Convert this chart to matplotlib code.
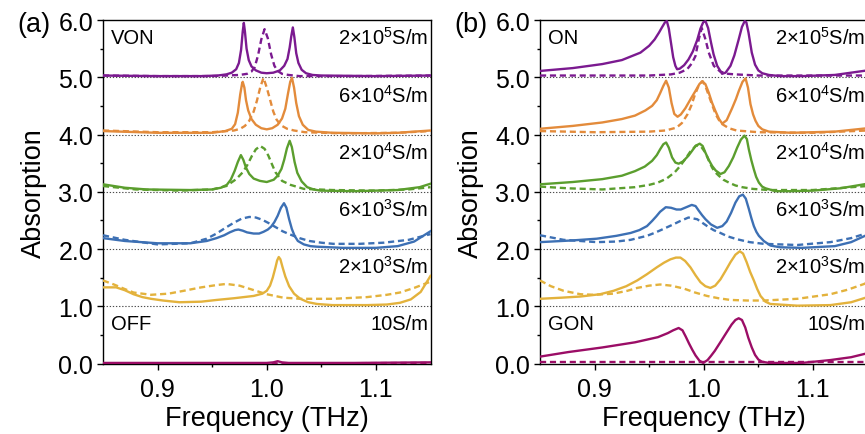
import matplotlib
matplotlib.use("Agg")
import matplotlib.pyplot as plt

plt.rcParams['font.family'] = ['Liberation Sans', 'DejaVu Sans']
plt.rcParams['mathtext.fontset'] = 'custom'
plt.rcParams['mathtext.rm'] = 'Liberation Sans'
plt.rcParams['mathtext.it'] = 'Liberation Sans:italic'

# ---------------- data: panel (a) ----------------
a_purple_f_solid = [0.85, 0.90, 0.94, 0.955, 0.963, 0.968, 0.972, 0.9745, 0.9765, 0.978, 0.979, 0.980, 0.9815, 0.9835,
                    0.986, 0.990, 0.995, 1.000, 1.006, 1.012, 1.016, 1.019, 1.021, 1.0225, 1.0239, 1.0253, 1.027,
                    1.029, 1.032, 1.036, 1.042, 1.05, 1.10, 1.15]
a_purple_solid = [5.03, 5.02, 5.02, 5.03, 5.05, 5.08, 5.14, 5.25, 5.48, 5.80, 5.95, 5.80, 5.50, 5.30,
                  5.19, 5.12, 5.08, 5.07, 5.08, 5.12, 5.20, 5.32, 5.52, 5.72, 5.87, 5.70, 5.42,
                  5.25, 5.13, 5.07, 5.04, 5.03, 5.02, 5.03]
a_purple_f_dash = [0.85, 0.90, 0.95, 0.975, 0.982, 0.986, 0.989, 0.992, 0.995, 0.998, 1.001, 1.004, 1.007, 1.010,
                   1.014, 1.02, 1.03, 1.08, 1.15]
a_purple_dash = [5.03, 5.02, 5.02, 5.04, 5.06, 5.10, 5.18, 5.38, 5.66, 5.84, 5.68, 5.40, 5.20, 5.11,
                 5.06, 5.04, 5.02, 5.02, 5.03]

a_orange_f_solid = [0.85, 0.90, 0.95, 0.962, 0.968, 0.971, 0.9735, 0.9757, 0.9775, 0.978, 0.9795, 0.981, 0.983, 0.986,
                    0.990, 0.995, 1.000, 1.005, 1.010, 1.014, 1.017, 1.0195, 1.0215, 1.0231, 1.025, 1.027, 1.0295,
                    1.033, 1.038, 1.045, 1.06, 1.10, 1.12, 1.15]
a_orange_solid = [4.06, 4.03, 4.03, 4.06, 4.10, 4.18, 4.38, 4.70, 4.90, 4.92, 4.82, 4.60, 4.42, 4.27,
                  4.17, 4.11, 4.09, 4.11, 4.17, 4.28, 4.45, 4.72, 4.92, 4.99, 4.82, 4.55, 4.32,
                  4.17, 4.08, 4.05, 4.03, 4.02, 4.03, 4.07]
a_orange_f_dash = [0.85, 0.90, 0.95, 0.970, 0.9757, 0.980, 0.984, 0.988, 0.991, 0.994, 0.997, 1.000, 1.0033, 1.006,
                   1.009, 1.013, 1.0187, 1.025, 1.035, 1.07, 1.12, 1.15]
a_orange_dash = [4.07, 4.04, 4.04, 4.07, 4.10, 4.15, 4.24, 4.40, 4.59, 4.82, 4.99, 4.82, 4.59, 4.40,
                 4.26, 4.16, 4.10, 4.07, 4.04, 4.02, 4.03, 4.06]

a_green_f_solid = [0.85, 0.87, 0.89, 0.93, 0.950, 0.958, 0.9634, 0.967, 0.9705, 0.9735, 0.9763, 0.9785, 0.981, 0.984,
                   0.988, 0.9937, 1.000, 1.0064, 1.010, 1.0135, 1.016, 1.0185, 1.021, 1.023, 1.0255, 1.028, 1.032,
                   1.037, 1.043, 1.049, 1.08, 1.12, 1.14, 1.15]
a_green_solid = [3.13, 3.07, 3.04, 3.03, 3.04, 3.07, 3.12, 3.21, 3.36, 3.52, 3.64, 3.56, 3.42, 3.31,
                 3.23, 3.19, 3.17, 3.21, 3.28, 3.40, 3.56, 3.76, 3.89, 3.78, 3.52, 3.33, 3.18,
                 3.08, 3.04, 3.02, 3.01, 3.03, 3.08, 3.14]
a_green_f_dash = [0.85, 0.88, 0.92, 0.95, 0.963, 0.972, 0.978, 0.982, 0.9865, 0.990, 0.994, 0.998, 1.0015, 1.005,
                  1.008, 1.014, 1.0218, 1.034, 1.06, 1.10, 1.13, 1.15]
a_green_dash = [3.10, 3.04, 3.02, 3.04, 3.10, 3.22, 3.34, 3.46, 3.63, 3.74, 3.80, 3.75, 3.63, 3.47,
                3.34, 3.19, 3.12, 3.05, 3.03, 3.02, 3.04, 3.08]

a_blue_f_solid = [0.85, 0.87, 0.90, 0.93, 0.945, 0.954, 0.961, 0.966, 0.971, 0.974, 0.978, 0.982, 0.988, 0.993,
                  0.997, 1.001, 1.004, 1.007, 1.010, 1.013, 1.0158, 1.018, 1.0205, 1.023, 1.0255, 1.0285, 1.034,
                  1.040, 1.046, 1.07, 1.10, 1.12, 1.135, 1.15]
a_blue_solid = [2.19, 2.14, 2.10, 2.10, 2.14, 2.19, 2.24, 2.29, 2.33, 2.34, 2.32, 2.29, 2.27, 2.27,
                2.30, 2.34, 2.39, 2.47, 2.58, 2.72, 2.80, 2.72, 2.52, 2.35, 2.23, 2.14, 2.08,
                2.05, 2.04, 2.02, 2.02, 2.05, 2.13, 2.31]
a_blue_f_dash = [0.85, 0.87, 0.90, 0.93, 0.945, 0.954, 0.963, 0.970, 0.977, 0.984, 0.990, 0.996, 1.002, 1.0083,
                 1.0145, 1.0205, 1.030, 1.039, 1.050, 1.061, 1.085, 1.107, 1.13, 1.15]
a_blue_dash = [2.24, 2.16, 2.08, 2.10, 2.18, 2.27, 2.38, 2.46, 2.53, 2.56, 2.55, 2.51, 2.45, 2.38,
               2.31, 2.26, 2.19, 2.14, 2.11, 2.09, 2.09, 2.11, 2.16, 2.26]

a_yellow_f_solid = [0.85, 0.862, 0.870, 0.878, 0.886, 0.894, 0.905, 0.92, 0.94, 0.954, 0.970, 0.988, 0.996, 1.000,
                    1.003, 1.0055, 1.008, 1.0095, 1.011, 1.0125, 1.0145, 1.017, 1.0205, 1.025, 1.0307, 1.038,
                    1.046, 1.06, 1.092, 1.11, 1.122, 1.132, 1.141, 1.15]
a_yellow_solid = [1.33, 1.33, 1.28, 1.21, 1.16, 1.13, 1.10, 1.07, 1.08, 1.11, 1.14, 1.18, 1.22, 1.27,
                  1.36, 1.50, 1.68, 1.80, 1.86, 1.82, 1.68, 1.52, 1.35, 1.22, 1.13, 1.07,
                  1.04, 1.02, 1.02, 1.03, 1.06, 1.12, 1.25, 1.53]
a_yellow_f_dash = [0.85, 0.86, 0.870, 0.878, 0.894, 0.910, 0.924, 0.940, 0.954, 0.963, 0.975, 0.985, 1.0, 1.015,
                   1.031, 1.061, 1.092, 1.11, 1.122, 1.135, 1.15]
a_yellow_dash = [1.45, 1.38, 1.30, 1.24, 1.20, 1.22, 1.27, 1.33, 1.37, 1.39, 1.36, 1.30, 1.21, 1.15,
                 1.13, 1.13, 1.16, 1.20, 1.24, 1.32, 1.43]

a_mag_f_solid = [0.85, 0.95, 1.0, 1.006, 1.010, 1.014, 1.02, 1.08, 1.15]
a_mag_solid = [0.01, 0.01, 0.01, 0.02, 0.04, 0.02, 0.01, 0.01, 0.02]
a_mag_f_dash = [0.85, 1.0, 1.15]
a_mag_dash = [0.0, 0.0, 0.01]

# ---------------- data: panel (b) ----------------
b_purple_f_solid = [0.85, 0.88, 0.907, 0.925, 0.942, 0.950, 0.955, 0.959, 0.962, 0.9645, 0.9662, 0.968, 0.970, 0.972,
                    0.974, 0.9756, 0.978, 0.982, 0.986, 0.990, 0.994, 0.997, 0.9995, 1.0016, 1.004, 1.0065, 1.009,
                    1.0123, 1.0168, 1.020, 1.0245, 1.028, 1.032, 1.035, 1.0375, 1.039, 1.041, 1.044, 1.047, 1.050,
                    1.0536, 1.0597, 1.07, 1.09, 1.12, 1.15]
b_purple_solid = [5.11, 5.16, 5.23, 5.30, 5.43, 5.55, 5.66, 5.78, 5.88, 5.96, 5.98, 5.85, 5.60, 5.35,
                  5.20, 5.14, 5.15, 5.21, 5.31, 5.45, 5.65, 5.85, 5.96, 5.98, 5.86, 5.62, 5.40,
                  5.20, 5.06, 5.08, 5.20, 5.38, 5.66, 5.88, 5.98, 5.96, 5.78, 5.43, 5.22, 5.12,
                  5.07, 5.04, 5.02, 5.02, 5.04, 5.12]
b_purple_f_dash = [0.85, 0.90, 0.95, 0.97, 0.978, 0.9848, 0.989, 0.9924, 0.9954, 0.9982, 1.0016, 1.0046, 1.0092,
                   1.015, 1.022, 1.029, 1.05, 1.08, 1.15]
b_purple_dash = [5.03, 5.03, 5.03, 5.05, 5.08, 5.14, 5.24, 5.37, 5.66, 5.86, 5.66, 5.43, 5.20,
                 5.10, 5.06, 5.05, 5.03, 5.03, 5.03]

b_orange_f_solid = [0.85, 0.88, 0.907, 0.925, 0.937, 0.9465, 0.9527, 0.957, 0.960, 0.963, 0.9655, 0.968, 0.9705,
                    0.973, 0.976, 0.979, 0.9832, 0.988, 0.9924, 0.9960, 0.9985, 1.0015, 1.0046, 1.0075, 1.0107,
                    1.0140, 1.0169, 1.021, 1.026, 1.0295, 1.0321, 1.0355, 1.0383, 1.0405, 1.0428, 1.0452, 1.0474,
                    1.050, 1.0536, 1.0597, 1.08, 1.12, 1.15]
b_orange_solid = [4.10, 4.15, 4.21, 4.27, 4.33, 4.42, 4.50, 4.60, 4.72, 4.85, 4.94, 4.82, 4.55,
                  4.36, 4.31, 4.35, 4.46, 4.62, 4.76, 4.88, 4.93, 4.88, 4.73, 4.56, 4.41,
                  4.27, 4.19, 4.25, 4.46, 4.62, 4.76, 4.92, 4.98, 4.82, 4.53, 4.35, 4.24,
                  4.15, 4.09, 4.05, 4.03, 4.05, 4.11]
b_orange_f_dash = [0.85, 0.90, 0.95, 0.965, 0.975, 0.980, 0.985, 0.9885, 0.992, 0.9955, 0.999, 1.002, 1.005, 1.008,
                   1.011, 1.014, 1.017, 1.023, 1.03, 1.05, 1.10, 1.15]
b_orange_dash = [4.06, 4.04, 4.05, 4.07, 4.12, 4.20, 4.35, 4.50, 4.70, 4.86, 4.93, 4.82, 4.66, 4.50,
                 4.35, 4.25, 4.18, 4.11, 4.07, 4.04, 4.03, 4.07]

b_green_f_solid = [0.85, 0.88, 0.907, 0.925, 0.937, 0.946, 0.9527, 0.957, 0.960, 0.963, 0.9655, 0.968, 0.971, 0.974,
                   0.977, 0.981, 0.986, 0.9895, 0.9924, 0.9963, 0.999, 1.0016, 1.0045, 1.0077, 1.011, 1.0153, 1.019,
                   1.023, 1.027, 1.0306, 1.034, 1.0373, 1.0395, 1.0413, 1.0436, 1.0459, 1.048, 1.0505, 1.0535,
                   1.0566, 1.0658, 1.08, 1.10, 1.125, 1.15]
b_green_solid = [3.13, 3.17, 3.22, 3.28, 3.36, 3.44, 3.54, 3.64, 3.74, 3.83, 3.86, 3.77, 3.60, 3.51,
                 3.49, 3.53, 3.63, 3.72, 3.80, 3.84, 3.80, 3.68, 3.56, 3.45, 3.37, 3.31, 3.34,
                 3.45, 3.60, 3.77, 3.91, 3.98, 3.92, 3.74, 3.55, 3.39, 3.26, 3.16, 3.09,
                 3.06, 3.01, 3.01, 3.02, 3.06, 3.14]
b_green_f_dash = [0.85, 0.876, 0.907, 0.937, 0.950, 0.958, 0.966, 0.9734, 0.978, 0.983, 0.988, 0.9933, 0.9975,
                  1.0016, 1.0045, 1.0077, 1.0105, 1.0138, 1.018, 1.023, 1.029, 1.0352, 1.045, 1.0597, 1.10, 1.15]
b_green_dash = [3.09, 3.06, 3.04, 3.08, 3.12, 3.16, 3.23, 3.34, 3.44, 3.57, 3.71, 3.81, 3.79,
                3.68, 3.55, 3.42, 3.34, 3.28, 3.21, 3.16, 3.11, 3.08, 3.05, 3.03, 3.03, 3.10]

b_blue_f_solid = [0.85, 0.88, 0.902, 0.920, 0.933, 0.941, 0.948, 0.9527, 0.9565, 0.960, 0.9652, 0.970, 0.975, 0.979,
                  0.984, 0.989, 0.9925, 0.9954, 0.9985, 1.0016, 1.0065, 1.0123, 1.017, 1.021, 1.025, 1.029, 1.0325,
                  1.0358, 1.0385, 1.0413, 1.0436, 1.0459, 1.0482, 1.0505, 1.055, 1.0611, 1.07, 1.09, 1.12, 1.135,
                  1.15]
b_blue_solid = [2.12, 2.15, 2.18, 2.23, 2.28, 2.33, 2.40, 2.49, 2.57, 2.65, 2.73, 2.72, 2.69, 2.69,
                2.73, 2.77, 2.75, 2.67, 2.59, 2.52, 2.43, 2.37, 2.40, 2.48, 2.63, 2.81, 2.92,
                2.95, 2.88, 2.70, 2.54, 2.40, 2.30, 2.23, 2.14, 2.06, 2.03, 2.02, 2.05, 2.12,
                2.25]
b_blue_f_dash = [0.85, 0.8716, 0.902, 0.92, 0.933, 0.948, 0.956, 0.963, 0.971, 0.9786, 0.986, 0.994, 1.0031, 1.009,
                 1.0153, 1.022, 1.0306, 1.042, 1.055, 1.0857, 1.116, 1.135, 1.15]
b_blue_dash = [2.24, 2.16, 2.12, 2.13, 2.16, 2.23, 2.29, 2.35, 2.42, 2.49, 2.55, 2.52, 2.40, 2.33,
               2.28, 2.22, 2.17, 2.12, 2.09, 2.07, 2.12, 2.19, 2.28]

b_yellow_f_solid = [0.85, 0.87, 0.887, 0.905, 0.9174, 0.929, 0.939, 0.948, 0.957, 0.9635, 0.9695, 0.9745, 0.9786,
                    0.983, 0.9878, 0.9925, 0.997, 1.0015, 1.0061, 1.0105, 1.0153, 1.020, 1.0245, 1.029, 1.033,
                    1.036, 1.0393, 1.0425, 1.0459, 1.049, 1.052, 1.0565, 1.061, 1.0857, 1.116, 1.135, 1.15]
b_yellow_solid = [1.13, 1.15, 1.17, 1.21, 1.27, 1.35, 1.45, 1.56, 1.68, 1.76, 1.82, 1.85, 1.85,
                  1.79, 1.68, 1.54, 1.42, 1.35, 1.32, 1.36, 1.47, 1.62, 1.77, 1.90, 1.96,
                  1.92, 1.77, 1.60, 1.45, 1.30, 1.18, 1.08, 1.04, 1.01, 1.02, 1.07, 1.16]
b_yellow_f_dash = [0.85, 0.86, 0.8716, 0.887, 0.90, 0.917, 0.93, 0.939, 0.950, 0.960, 0.970, 0.9816, 0.992, 1.003,
                   1.0135, 1.0245, 1.04, 1.055, 1.0857, 1.116, 1.132, 1.147, 1.15]
b_yellow_dash = [1.45, 1.35, 1.27, 1.21, 1.20, 1.22, 1.27, 1.32, 1.36, 1.38, 1.36, 1.31, 1.24, 1.18,
                 1.14, 1.11, 1.10, 1.10, 1.13, 1.21, 1.29, 1.39, 1.42]

b_mag_f_solid = [0.85, 0.876, 0.907, 0.937, 0.958, 0.967, 0.972, 0.977, 0.9805, 0.9835, 0.9865, 0.9895, 0.9925,
                 0.9960, 0.9995, 1.0035, 1.0065, 1.0101, 1.0155, 1.0208, 1.0255, 1.029, 1.032, 1.035, 1.038, 1.0408,
                 1.044, 1.047, 1.050, 1.0534, 1.06, 1.09, 1.116, 1.135, 1.15]
b_mag_solid = [0.12, 0.20, 0.28, 0.37, 0.46, 0.53, 0.58, 0.62, 0.58, 0.47, 0.35, 0.24, 0.14,
               0.05, 0.01, 0.06, 0.13, 0.22, 0.38, 0.54, 0.68, 0.76, 0.79, 0.76, 0.63, 0.45,
               0.28, 0.15, 0.07, 0.03, 0.01, 0.01, 0.06, 0.11, 0.18]
b_mag_f_dash = [0.85, 1.0, 1.15]
b_mag_dash = [0.02, 0.02, 0.02]

conductivity_labels = ['10S/m', r'2×10$^\mathregular{3}$S/m', r'6×10$^\mathregular{3}$S/m',
                       r'2×10$^\mathregular{4}$S/m', r'6×10$^\mathregular{4}$S/m', r'2×10$^\mathregular{5}$S/m']
y_ticks = [0.0, 1.0, 2.0, 3.0, 4.0, 5.0, 6.0]
x_ticks = [0.9, 1.0, 1.1]

colors = {'mag': '#9B0D66', 'yellow': '#E3B23C', 'blue': '#3D70B4',
          'green': '#5B9E2E', 'orange': '#E38B3B', 'purple': '#7B1A90'}

panel_a = [
    ('mag', a_mag_f_solid, a_mag_solid, a_mag_f_dash, a_mag_dash),
    ('yellow', a_yellow_f_solid, a_yellow_solid, a_yellow_f_dash, a_yellow_dash),
    ('blue', a_blue_f_solid, a_blue_solid, a_blue_f_dash, a_blue_dash),
    ('green', a_green_f_solid, a_green_solid, a_green_f_dash, a_green_dash),
    ('orange', a_orange_f_solid, a_orange_solid, a_orange_f_dash, a_orange_dash),
    ('purple', a_purple_f_solid, a_purple_solid, a_purple_f_dash, a_purple_dash),
]
panel_b = [
    ('mag', b_mag_f_solid, b_mag_solid, b_mag_f_dash, b_mag_dash),
    ('yellow', b_yellow_f_solid, b_yellow_solid, b_yellow_f_dash, b_yellow_dash),
    ('blue', b_blue_f_solid, b_blue_solid, b_blue_f_dash, b_blue_dash),
    ('green', b_green_f_solid, b_green_solid, b_green_f_dash, b_green_dash),
    ('orange', b_orange_f_solid, b_orange_solid, b_orange_f_dash, b_orange_dash),
    ('purple', b_purple_f_solid, b_purple_solid, b_purple_f_dash, b_purple_dash),
]

fig = plt.figure(figsize=(8.65, 4.35), dpi=100)
W, H = 865.0, 435.0
ax_a = fig.add_axes([103 / W, (H - 364.5) / H, 327.5 / W, 343.5 / H])
ax_b = fig.add_axes([540 / W, (H - 364.5) / H, 327.5 / W, 343.5 / H])

for ax, panel, tag, name in [(ax_a, panel_a, '(a)', ('VON', 'OFF')), (ax_b, panel_b, '(b)', ('ON', 'GON'))]:
    for k in range(1, 6):
        ax.axhline(k, color='0.3', lw=0.8, ls=(0, (1.2, 1.6)), zorder=1)
    for key, fs, ys, fd, yd in panel:
        c = colors[key]
        ax.plot(fs, ys, color=c, lw=1.7, zorder=3, solid_joinstyle='round')
        ax.plot(fd, yd, color=c, lw=1.7, ls=(0, (2.6, 1.6)), zorder=3)
    ax.set_xlim(0.85, 1.15)
    ax.set_ylim(0.0, 6.0)
    ax.set_xticks(x_ticks)
    ax.set_xticks([0.95, 1.05], minor=True)
    ax.set_yticks(y_ticks)
    ax.set_yticks([0.5, 1.5, 2.5, 3.5, 4.5, 5.5], minor=True)
    ax.set_xticklabels(['%.1f' % v for v in x_ticks])
    ax.set_yticklabels(['%.1f' % v for v in y_ticks])
    ax.tick_params(axis='both', which='major', direction='out', length=4, width=1.0, labelsize=18, pad=3)
    ax.tick_params(axis='both', which='minor', direction='out', length=2.5, width=1.0)
    ax.tick_params(axis='x', which='major', pad=6)
    for s in ax.spines.values():
        s.set_linewidth(1.0)
    for k, lab in enumerate(conductivity_labels):
        ax.text(1.148, k + 0.70, lab, ha='right', va='center', fontsize=14.5, zorder=4)
    ax.text(0.857, 5.70, name[0], ha='left', va='center', fontsize=14.5, zorder=4)
    ax.text(0.857, 0.70, name[1], ha='left', va='center', fontsize=14.5, zorder=4)
    ax.text(-0.212, 0.5, 'Absorption', rotation=90, ha='center', va='center', fontsize=19.5, transform=ax.transAxes)
    ax.text(0.5, -0.158, 'Frequency (THz)', ha='center', va='center', fontsize=19.5, transform=ax.transAxes)
    ax.text(-0.212, 0.988, tag, ha='center', va='center', fontsize=19.5, transform=ax.transAxes)

fig.savefig('out.png', dpi=100)
